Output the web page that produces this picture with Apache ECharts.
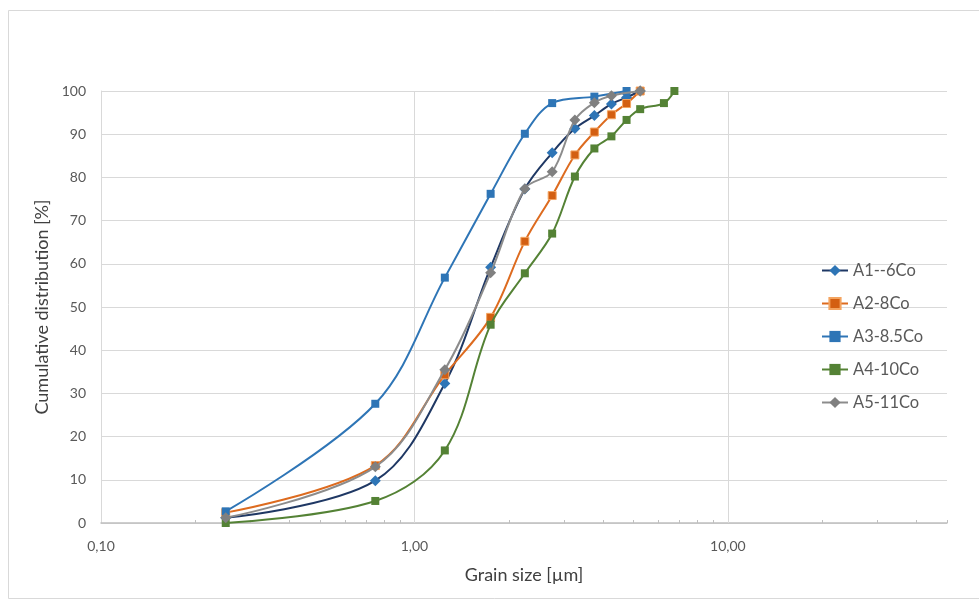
<!DOCTYPE html>
<html>
<head>
<meta charset="utf-8">
<script src="https://cdn.jsdelivr.net/npm/echarts@6/dist/echarts.min.js"></script>
<style>
  html, body { margin: 0; padding: 0; background: #fff; }
  #chart { width: 979px; height: 603px; }
</style>
</head>
<body>
<div id="chart"></div>
<script>
// Grain sizes [µm] and cumulative distribution [%] per alloy
const a1Size = [0.25, 0.75, 1.25, 1.75, 2.25, 2.75, 3.25, 3.75, 4.25, 4.75, 5.25];
const a1Cum  = [1.2, 9.8, 32.3, 59.2, 77.3, 85.7, 91.3, 94.3, 97.0, 98.5, 100];

const a2Size = [0.25, 0.75, 1.25, 1.75, 2.25, 2.75, 3.25, 3.75, 4.25, 4.75, 5.25];
const a2Cum  = [2.4, 13.3, 34.3, 47.6, 65.2, 75.8, 85.2, 90.5, 94.5, 97.1, 100];

const a3Size = [0.25, 0.75, 1.25, 1.75, 2.25, 2.75, 3.75, 4.75];
const a3Cum  = [2.7, 27.6, 56.8, 76.2, 90.1, 97.2, 98.7, 100];

const a4Size = [0.25, 0.75, 1.25, 1.75, 2.25, 2.75, 3.25, 3.75, 4.25, 4.75, 5.25, 6.25, 6.75];
const a4Cum  = [0, 5.1, 16.8, 45.9, 57.8, 67.0, 80.2, 86.7, 89.5, 93.3, 95.8, 97.2, 100];

const a5Size = [0.25, 0.75, 1.25, 1.75, 2.25, 2.75, 3.25, 3.75, 4.25, 5.25];
const a5Cum  = [1.2, 13.0, 35.5, 57.9, 77.4, 81.3, 93.3, 97.3, 98.9, 100];

const seriesNames = ['A1--6Co', 'A2-8Co', 'A3-8.5Co', 'A4-10Co', 'A5-11Co'];

// Log-axis tick positions and decade gridlines
const xTicks = [0.2, 0.3, 0.4, 0.5, 0.6, 0.7, 0.8, 0.9, 1, 2, 3, 4, 5, 6, 7, 8, 9, 10, 20, 30, 40, 50];
const xLabels = [0.1, 1, 10];
const xGrid = [1, 10];

const font = 'Lato, "Open Sans", sans-serif';
const textColor = '#595959';

function pairs(xs, ys) { return xs.map((x, i) => [x, ys[i]]); }

const styles = [
  { line: '#1f3864', mark: '#2e75b6', symbol: 'diamond', size: 11 },
  { line: '#dd6b1f', mark: '#d35f12', symbol: 'rect', size: 8, border: '#f4a460' },
  { line: '#2e75b6', mark: '#2e75b6', symbol: 'rect', size: 8 },
  { line: '#548235', mark: '#548235', symbol: 'rect', size: 8 },
  { line: '#8c8c8c', mark: '#808080', symbol: 'diamond', size: 11 }
];
const data = [pairs(a1Size, a1Cum), pairs(a2Size, a2Cum), pairs(a3Size, a3Cum), pairs(a4Size, a4Cum), pairs(a5Size, a5Cum)];

const series = seriesNames.map((name, i) => {
  const s = styles[i];
  const out = {
    name: name,
    type: 'line',
    data: data[i],
    smooth: 0.35,
    symbol: s.symbol,
    symbolSize: s.size,
    lineStyle: { color: s.line, width: 2 },
    itemStyle: { color: s.mark, borderColor: s.border || s.mark, borderWidth: s.border ? 1 : 0 },
    emphasis: { disabled: true },
    z: 3 + i
  };
  if (i === 0) {
    out.markLine = {
      silent: true,
      symbol: 'none',
      label: { show: false },
      lineStyle: { color: '#d9d9d9', width: 1, type: 'solid' },
      z: 1,
      data: xGrid.map(v => ({ xAxis: v }))
    };
  }
  return out;
});

const chart = echarts.init(document.getElementById('chart'), null, { renderer: 'canvas' });
chart.setOption({
  animation: false,
  backgroundColor: '#ffffff',
  textStyle: { fontFamily: font },
  graphic: [{
    type: 'rect',
    shape: { x: 8.5, y: 10.5, width: 990, height: 588 },
    style: { fill: 'none', stroke: '#d9d9d9', lineWidth: 1 },
    silent: true,
    z: -10
  }],
  grid: { left: 101, right: 32, top: 91, bottom: 80 },
  legend: {
    orient: 'vertical',
    left: 816,
    top: 256,
    itemGap: 14,
    itemWidth: 26,
    itemHeight: 14,
    textStyle: { color: textColor, fontSize: 16.5, fontFamily: font, lineHeight: 19 },
    data: seriesNames
  },
  xAxis: {
    type: 'log',
    logBase: 10,
    min: 0.1,
    max: 50,
    name: 'Grain size [µm]',
    nameLocation: 'middle',
    nameGap: 43,
    nameTextStyle: { color: '#404040', fontSize: 18, fontFamily: font },
    axisLine: { show: true, lineStyle: { color: '#bfbfbf', width: 1.5 } },
    axisTick: { show: true, inside: true, length: 3, customValues: xTicks, lineStyle: { color: '#bfbfbf' } },
    axisLabel: {
      color: textColor,
      fontSize: 14,
      fontFamily: font,
      margin: 16,
      customValues: xLabels,
      formatter: v => Number(v).toFixed(2).replace('.', ',')
    },
    splitLine: { show: false }
  },
  yAxis: {
    type: 'value',
    min: 0,
    max: 100,
    interval: 10,
    name: 'Cumulative distribution [%]',
    nameLocation: 'middle',
    nameGap: 47,
    nameRotate: 90,
    nameTextStyle: { color: '#404040', fontSize: 18, fontFamily: font },
    axisLine: { show: true, lineStyle: { color: '#d9d9d9', width: 1 } },
    axisTick: { show: false },
    axisLabel: { color: textColor, fontSize: 14, fontFamily: font, margin: 15 },
    splitLine: { show: true, lineStyle: { color: '#d9d9d9', width: 1 } }
  },
  series: series
});
</script>
</body>
</html>
